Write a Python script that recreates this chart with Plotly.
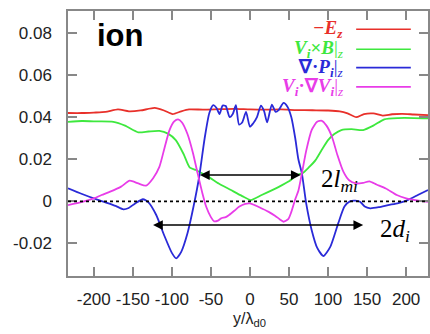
import plotly.graph_objects as go

# ---------------- data ----------------
ez_x = [-233, -215, -200, -185, -169, -155, -140, -122, -110, -99, -88, -78, -60, -40, -20, 0, 20, 40, 60, 80,
        100, 115, 125, 136, 146, 158, 170, 182, 195, 210, 228]
ez_y = [0.0420, 0.0420, 0.0422, 0.0425, 0.0437, 0.0428, 0.0432, 0.0444, 0.0432, 0.0415, 0.0428, 0.0437, 0.0436,
        0.0438, 0.0440, 0.0437, 0.0436, 0.0437, 0.0434, 0.0433, 0.0432, 0.0428, 0.0418, 0.0400, 0.0415, 0.0418,
        0.0408, 0.0414, 0.0416, 0.0413, 0.0410]

vxb_x = [-233, -215, -195, -175, -160, -143, -130, -116, -105, -95, -85, -77, -69, -60, -52, -40, -25, -10, 1,
         15, 37, 50, 60, 67, 75, 84, 92, 100, 108, 117, 130, 145, 158, 172, 190, 210, 228]
vxb_y = [0.0378, 0.0382, 0.0380, 0.0378, 0.0360, 0.0328, 0.0332, 0.0335, 0.0322, 0.0291, 0.0225, 0.0160, 0.0149,
         0.0130, 0.0114, 0.0085, 0.0055, 0.0025, 0.0006, 0.0030, 0.0069, 0.0095, 0.0125, 0.0133, 0.0160, 0.0196,
         0.0245, 0.0291, 0.0320, 0.0339, 0.0343, 0.0339, 0.0360, 0.0390, 0.0396, 0.0396, 0.0394]

divp_x = [-233, -215, -200, -185, -172, -162, -156, -147, -137, -130, -120, -110, -100, -94.5, -88, -80, -72, -65,
          -58, -52, -47, -43, -39, -35, -31, -26, -22, -18, -14, -10, -5, 0, 4, 9, 14, 18, 22, 28, 33, 37, 43, 48,
          53, 58, 62, 66.5, 72, 79, 86, 94, 103, 113, 121, 128, 135, 141, 147, 154, 165, 177, 190, 202, 215, 228]
divp_y = [0.0062, 0.0035, 0.0014, -0.0005, -0.0022, -0.0038, -0.0033, -0.0010, 0.0010, -0.0005, -0.0065, -0.0160,
          -0.0245, -0.0271, -0.0240, -0.0152, -0.0020, 0.0117, 0.0300, 0.0420, 0.0457, 0.0445, 0.0415, 0.0455,
          0.0453, 0.0400, 0.0415, 0.0457, 0.0365, 0.0375, 0.0425, 0.0355, 0.0370, 0.0400, 0.0455, 0.0430, 0.0375,
          0.0460, 0.0425, 0.0435, 0.0468, 0.0450, 0.0400, 0.0300, 0.0200, 0.0133, -0.0010, -0.0136, -0.0220,
          -0.0260, -0.0215, -0.0105, -0.0025, 0.0000, 0.0003, -0.0002, -0.0025, -0.0033, -0.0028, -0.0018,
          -0.0008, 0.0006, 0.0030, 0.0054]

vdv_x = [-233, -215, -200, -190, -179, -165, -154, -143, -133, -124, -116, -109, -103, -97, -92, -87, -80, -73,
         -67, -61, -56, -50, -45.8, -41, -37, -31, -26.7, -20, -14, -6, 0, 6, 12, 24, 32, 38, 43, 49, 53, 58, 62,
         66.5, 72, 79, 86, 92, 98, 105, 112, 119.6, 127, 136, 145, 153, 162, 174, 188, 200, 214, 228]
vdv_y = [-0.0018, -0.0003, 0.0014, 0.0030, 0.0046, 0.0070, 0.0098, 0.0085, 0.0075, 0.0110, 0.0164, 0.0260,
         0.0339, 0.0380, 0.0390, 0.0375, 0.0320, 0.0230, 0.0133, 0.0040, -0.0026, -0.0075, -0.0095, -0.0092,
         -0.0081, -0.0075, -0.0065, -0.0045, -0.0026, -0.0012, -0.0010, -0.0018, -0.0028, -0.0050, -0.0068,
         -0.0085, -0.0097, -0.0085, -0.0050, 0.0010, 0.0050, 0.0133, 0.0240, 0.0339, 0.0378, 0.0383, 0.0360,
         0.0307, 0.0220, 0.0141, 0.0100, 0.0085, 0.0088, 0.0095, 0.0080, 0.0061, 0.0030, 0.0014, 0.0004, -0.0002]

x_tick_vals = [-200, -150, -100, -50, 0, 50, 100, 150, 200]
x_tick_text = ["-200", "-150", "-100", "-50", "0", "50", "100", "150", "200"]
y_tick_vals = [-0.02, 0, 0.02, 0.04, 0.06, 0.08]
y_tick_text = ["-0.02", "0", "0.02", "0.04", "0.06", "0.08"]

lmi_span = [-66, 65]       # 2 l_mi arrow
lmi_level = 0.0125
di_span = [-126, 145]      # 2 d_i arrow
di_level = -0.0113

RED = "#e8302a"
GREEN = "#3ee83e"
BLUE = "#2a2ad8"
MAG = "#e83ce8"

series = [
    (ez_x, ez_y, RED, "<b><i>−E<sub>z</sub></i></b>"),
    (vxb_x, vxb_y, GREEN, "<b><i>V<sub>i</sub></i>×<i>B</i></b>|<sub><i>z</i></sub>"),
    (divp_x, divp_y, BLUE, "<b>∇·<i>P<sub>i</sub></i></b>|<sub><i>z</i></sub>"),
    (vdv_x, vdv_y, MAG, "<b><i>V<sub>i</sub></i>·∇<i>V<sub>i</sub></i></b>|<sub><i>z</i></sub>"),
]
legend_y = [0.0818, 0.0723, 0.0636, 0.0544]

fig = go.Figure()
for (xs, ys, col, name) in series:
    fig.add_trace(go.Scatter(x=xs, y=ys, mode="lines", line=dict(color=col, width=1.8, shape="spline", smoothing=0.6),
                             showlegend=False, hoverinfo="skip"))

fig.add_hline(y=0, line=dict(color="black", width=1.6, dash="dot"))

ann = []
# legend
for (xs, ys, col, name), ly in zip(series, legend_y):
    ann.append(dict(x=122, y=ly, xref="x", yref="y", text=name, showarrow=False, xanchor="right", yanchor="middle",
                    font=dict(family="Liberation Serif", size=19, color=col)))
    fig.add_shape(type="line", x0=136, x1=206, y0=ly, y1=ly, xref="x", yref="y",
                  line=dict(color=col, width=1.6))

# arrows
for span, lvl in [(lmi_span, lmi_level), (di_span, di_level)]:
    ann.append(dict(x=span[1], y=lvl, ax=span[0], ay=lvl, xref="x", yref="y", axref="x", ayref="y", text="",
                    showarrow=True, arrowhead=2, startarrowhead=2, arrowside="end+start", arrowsize=1.3,
                    startarrowsize=1.3, arrowwidth=1.5, arrowcolor="black"))

ann.append(dict(x=89, y=0.0100, xref="x", yref="y", text="2<i>l<sub>mi</sub></i>", showarrow=False,
                xanchor="left", yanchor="middle", font=dict(family="Liberation Serif", size=25, color="black")))
ann.append(dict(x=164, y=-0.0138, xref="x", yref="y", text="2<i>d<sub>i</sub></i>", showarrow=False,
                xanchor="left", yanchor="middle", font=dict(family="Liberation Serif", size=25, color="black")))

ann.append(dict(x=-199, y=0.0790, xref="x", yref="y", text="<b>ion</b>", showarrow=False, xanchor="left",
                yanchor="middle", font=dict(family="Liberation Sans", size=31, color="black")))

ann.append(dict(x=0, y=-0.166, xref="x", yref="paper", text="y/λ<sub>d0</sub>", showarrow=False,
                xanchor="center", yanchor="middle", font=dict(family="Liberation Sans", size=16, color="#222")))

fig.update_layout(
    width=430, height=334,
    margin=dict(l=68, r=0, t=11, b=58),
    paper_bgcolor="white", plot_bgcolor="white",
    font=dict(family="Liberation Sans", size=17, color="#222"),
    annotations=ann,
    showlegend=False,
)
axis_common = dict(showgrid=False, zeroline=False, showline=True, linecolor="#888", linewidth=1.5,
                   mirror="ticks", ticks="inside", ticklen=9, tickwidth=1.5, tickcolor="#888")
fig.update_xaxes(range=[-233, 228], tickvals=x_tick_vals, ticktext=x_tick_text, ticklabelstandoff=7,
                 **axis_common)
fig.update_yaxes(range=[-0.0355, 0.0905], tickvals=y_tick_vals, ticktext=y_tick_text, ticklabelstandoff=11,
                 **axis_common)

fig.write_html("out.html")
